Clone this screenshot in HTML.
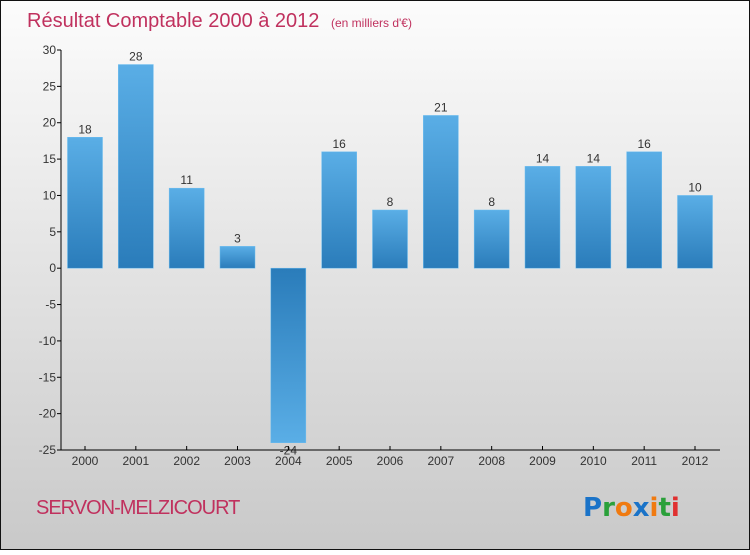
<!DOCTYPE html>
<html><head><meta charset="utf-8"><style>
html,body{margin:0;padding:0;}
body{width:750px;height:550px;overflow:hidden;font-family:"Liberation Sans","DejaVu Sans",sans-serif;}
</style></head><body>
<svg id="chart" width="750" height="550" xmlns="http://www.w3.org/2000/svg">
<defs>
<linearGradient id="bg" x1="0" y1="0" x2="0" y2="1"><stop offset="0" stop-color="#fcfcfc"/><stop offset="1" stop-color="#c9c9c9"/></linearGradient>
<linearGradient id="barPos" x1="0" y1="0" x2="0" y2="1"><stop offset="0" stop-color="#5aaee6"/><stop offset="1" stop-color="#2a7cba"/></linearGradient>
<linearGradient id="barNeg" x1="0" y1="0" x2="0" y2="1"><stop offset="0" stop-color="#2a7cba"/><stop offset="1" stop-color="#5aaee6"/></linearGradient>
</defs>
<rect x="0.5" y="0.5" width="749" height="549" fill="url(#bg)" stroke="#111" stroke-width="1"/>
<text x="27" y="27" font-size="20" fill="#c0315e">Résultat Comptable 2000 à 2012 <tspan font-size="12" dx="6">(en milliers d'€)</tspan></text>
<g id="yaxis"></g>
<g id="bars"></g>
<g id="xaxis"></g>
<text x="36" y="514" font-size="20" fill="#c0315e" letter-spacing="-1">SERVON-MELZICOURT</text>
<g font-size="26" font-weight="bold" font-family="'DejaVu Sans',sans-serif">
<text x="583" y="516"><tspan fill="#1a73c8">P</tspan><tspan fill="#2aa03a">r</tspan><tspan fill="#f07a10">o</tspan><tspan fill="#1a73c8">x</tspan><tspan fill="#f07a10">i</tspan><tspan fill="#2aa03a">t</tspan><tspan fill="#e03030">i</tspan></text>
</g>
</svg>
<script>
const categories = ["2000","2001","2002","2003","2004","2005","2006","2007","2008","2009","2010","2011","2012"];
const values = [18,28,11,3,-24,16,8,21,8,14,14,16,10];
const yTicks = [30,25,20,15,10,5,0,-5,-10,-15,-20,-25];
const NS="http://www.w3.org/2000/svg";
const yMin=-25,yMax=30,plotTop=50,plotBottom=450,plotLeft=61,plotRight=720;
function sy(v){return plotBottom-(v-yMin)/(yMax-yMin)*(plotBottom-plotTop);}
function sx(i){return 85+i*(695-85)/(categories.length-1);}
function mk(tag,attrs,parent){const e=document.createElementNS(NS,tag);for(const k in attrs)e.setAttribute(k,attrs[k]);parent.appendChild(e);return e;}
const ya=document.getElementById('yaxis'),xa=document.getElementById('xaxis'),bg=document.getElementById('bars');
const axl=mk('line',{x1:plotLeft,y1:plotTop,x2:plotLeft,y2:plotBottom,stroke:'#000'},ya);


yTicks.forEach(t=>{
  const tk=mk('line',{x1:plotLeft-4,y1:sy(t),x2:plotLeft,y2:sy(t),stroke:'#000'},ya);
  
  
  const tx=mk('text',{x:plotLeft-5,y:sy(t)+4,'font-size':12,fill:'#333','text-anchor':'end'},ya);
  tx.textContent=t;
  
  
});
const bw=35;
values.forEach((v,i)=>{
  const y0=sy(0),yv=sy(v);
  const r=mk('rect',{x:sx(i)-bw/2,y:Math.min(y0,yv),width:bw,height:Math.abs(yv-y0),fill:v>=0?'url(#barPos)':'url(#barNeg)',stroke:'#6bbdf0','stroke-width':0.5},bg);
  
  
  const lbl=mk('text',{x:sx(i),y:v>=0?yv-4:yv+12,'font-size':12,fill:'#333','text-anchor':'middle'},bg);
  lbl.textContent=v;
  
  
});
const xl=mk('line',{x1:plotLeft,y1:plotBottom,x2:plotRight,y2:plotBottom,stroke:'#000'},xa);


categories.forEach((c,i)=>{
  const tk=mk('line',{x1:sx(i),y1:plotBottom-4,x2:sx(i),y2:plotBottom,stroke:'#000'},xa);
  
  
  const tx=mk('text',{x:sx(i),y:plotBottom+15,'font-size':12,fill:'#333','text-anchor':'middle'},xa);
  tx.textContent=c;
  
  
});
</script>
</body></html>
